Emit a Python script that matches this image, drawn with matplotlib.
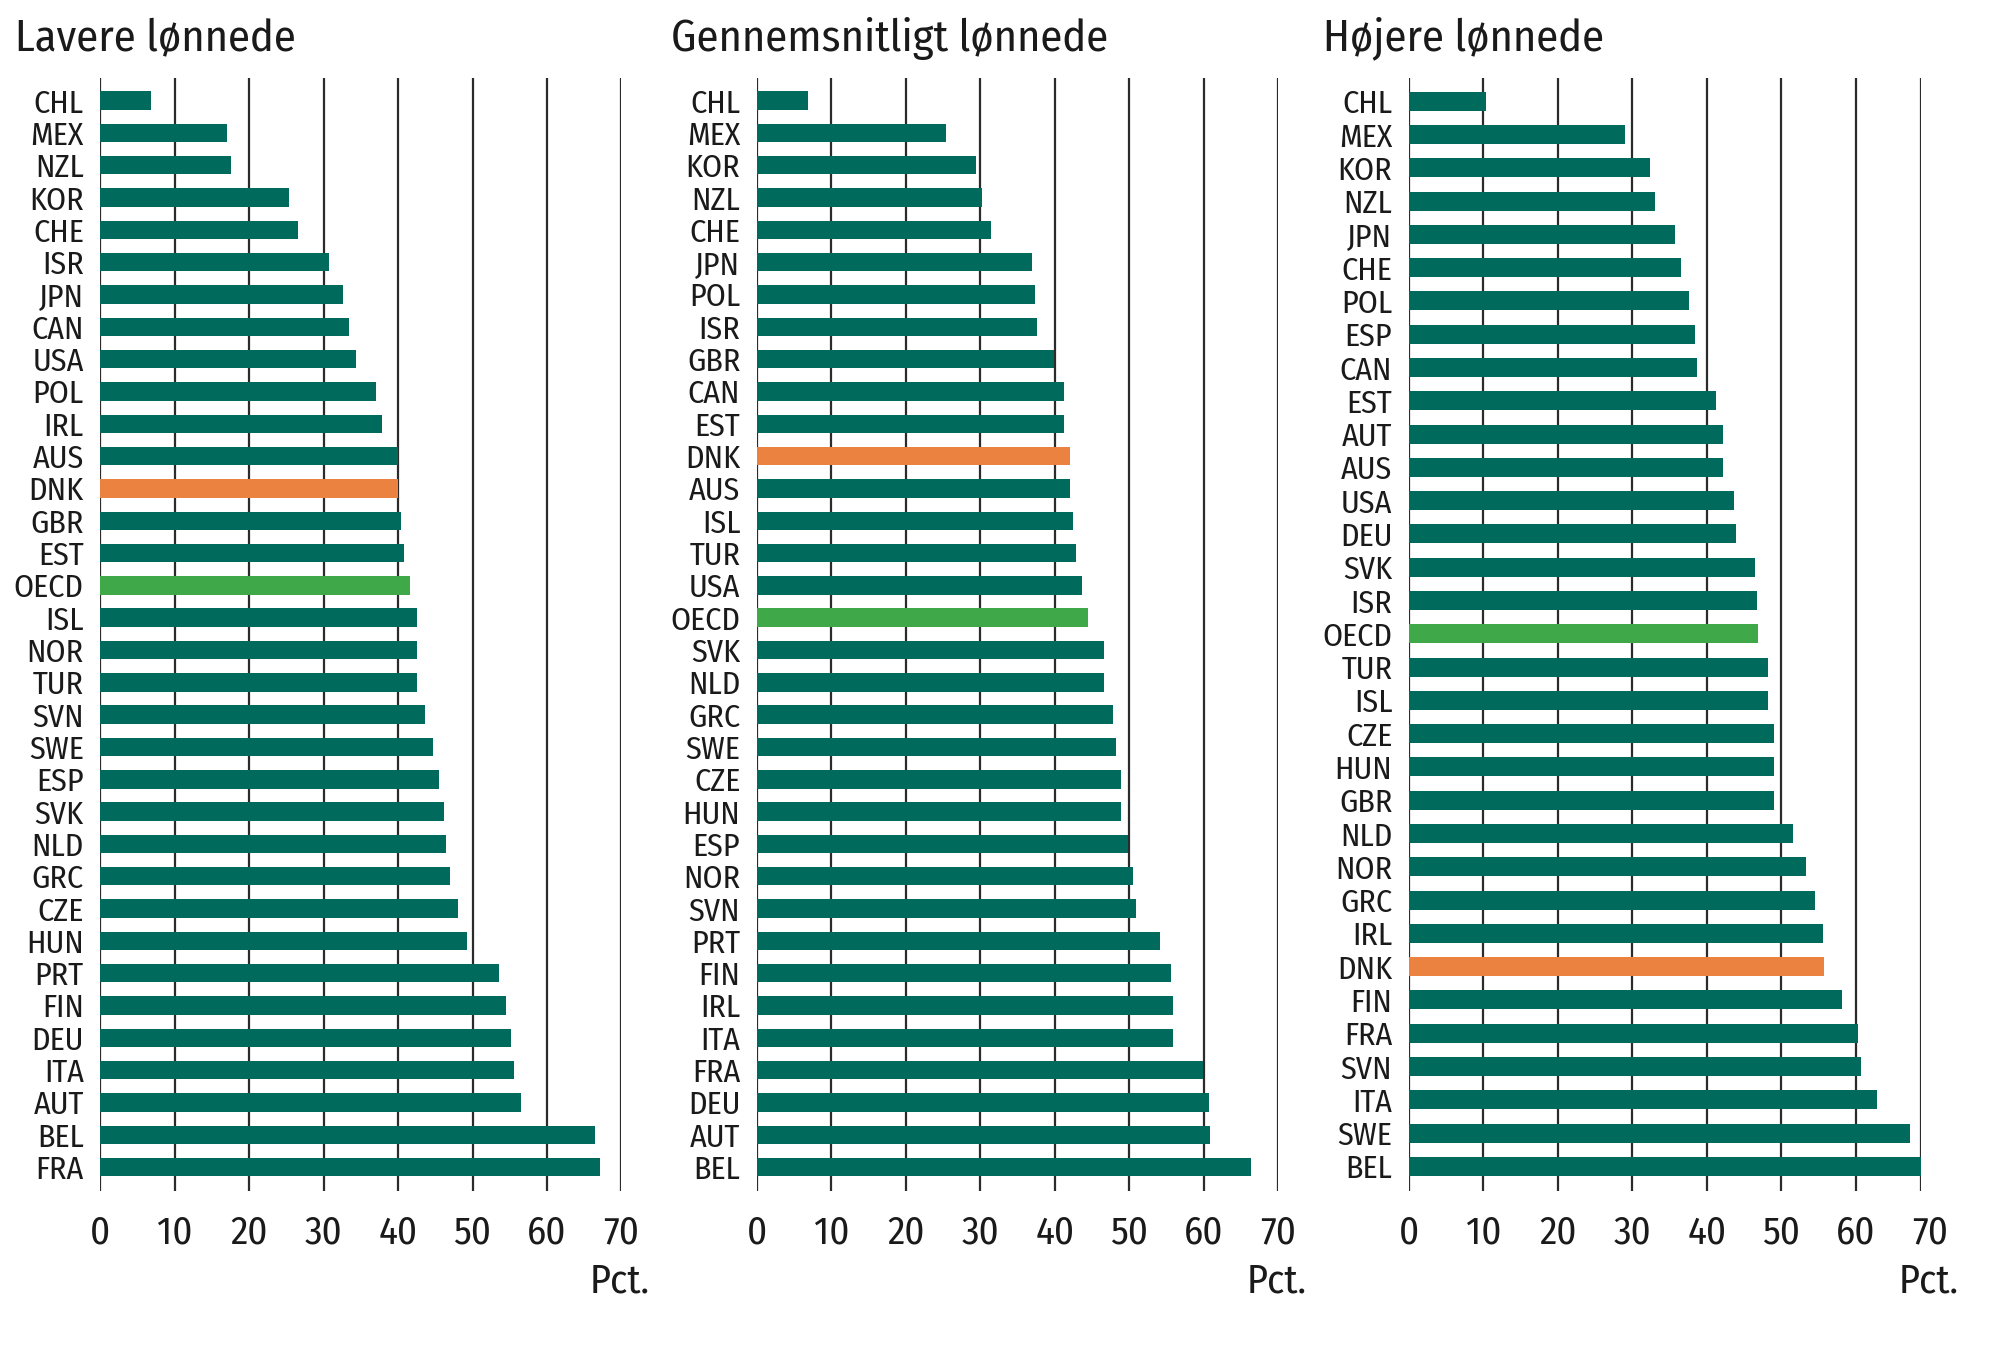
import matplotlib
matplotlib.use("Agg")
import matplotlib.pyplot as plt
from matplotlib import font_manager

# ---------------- data ----------------
low_countries = ["CHL", "MEX", "NZL", "KOR", "CHE", "ISR", "JPN", "CAN", "USA", "POL",
                 "IRL", "AUS", "DNK", "GBR", "EST", "OECD", "ISL", "NOR", "TUR", "SVN",
                 "SWE", "ESP", "SVK", "NLD", "GRC", "CZE", "HUN", "PRT", "FIN", "DEU",
                 "ITA", "AUT", "BEL", "FRA"]
low_values = [6.8, 17.0, 17.6, 25.3, 26.6, 30.7, 32.6, 33.4, 34.4, 37.0,
              37.9, 40.0, 40.0, 40.4, 40.8, 41.6, 42.5, 42.5, 42.5, 43.6,
              44.7, 45.5, 46.1, 46.5, 47.0, 48.1, 49.2, 53.6, 54.5, 55.2,
              55.6, 56.5, 66.4, 67.1]

avg_countries = ["CHL", "MEX", "KOR", "NZL", "CHE", "JPN", "POL", "ISR", "GBR", "CAN",
                 "EST", "DNK", "AUS", "ISL", "TUR", "USA", "OECD", "SVK", "NLD", "GRC",
                 "SWE", "CZE", "HUN", "ESP", "NOR", "SVN", "PRT", "FIN", "IRL", "ITA",
                 "FRA", "DEU", "AUT", "BEL"]
avg_values = [6.8, 25.4, 29.4, 30.2, 31.4, 37.0, 37.4, 37.6, 39.9, 41.2,
              41.3, 42.0, 42.0, 42.5, 42.9, 43.7, 44.5, 46.6, 46.6, 47.8,
              48.2, 48.9, 48.9, 49.9, 50.5, 50.9, 54.1, 55.6, 55.9, 55.9,
              59.9, 60.7, 60.8, 66.4]

high_countries = ["CHL", "MEX", "KOR", "NZL", "JPN", "CHE", "POL", "ESP", "CAN", "EST",
                  "AUT", "AUS", "USA", "DEU", "SVK", "ISR", "OECD", "TUR", "ISL", "CZE",
                  "HUN", "GBR", "NLD", "NOR", "GRC", "IRL", "DNK", "FIN", "FRA", "SVN",
                  "ITA", "SWE", "BEL"]
high_values = [10.3, 29.0, 32.4, 33.1, 35.8, 36.5, 37.6, 38.4, 38.7, 41.3,
               42.2, 42.2, 43.6, 44.0, 46.5, 46.7, 46.9, 48.2, 48.2, 49.0,
               49.0, 49.0, 51.6, 53.4, 54.6, 55.6, 55.8, 58.2, 60.3, 60.7,
               62.9, 67.3, 68.8]

titles = ["Lavere lønnede", "Gennemsnitligt lønnede", "Højere lønnede"]
x_ticks = [0, 10, 20, 30, 40, 50, 60, 70]
unit_label = "Pct."

# ---------------- fonts ----------------
available = {f.name for f in font_manager.fontManager.ttflist}
def pick(prefs):
    for p in prefs:
        if p in available:
            return [p, "DejaVu Sans"]
    return ["DejaVu Sans"]

COND = pick(["Fira Sans Condensed", "PT Sans Narrow", "Roboto Condensed",
             "Open Sans Condensed", "Liberation Sans Narrow", "Archivo Narrow"])

# ---------------- style ----------------
TEAL = "#006b5c"
ORANGE = "#ec8240"
GREEN = "#3fa849"
GRID = "#2b2b2b"
TXT = "#1a1a1a"

def color_for(c):
    if c == "DNK":
        return ORANGE
    if c == "OECD":
        return GREEN
    return TEAL

fig = plt.figure(figsize=(20, 13.49), dpi=100)
fig.patch.set_facecolor("white")

panels = [
    (low_countries, low_values, titles[0], 0.0502, 0.2605),
    (avg_countries, avg_values, titles[1], 0.3785, 0.2605),
    (high_countries, high_values, titles[2], 0.7045, 0.2605),
]
title_x = [0.0075, 0.3355, 0.6615]

bottom, height = 0.1171, 0.8251

for i, (countries, values, title, left, width) in enumerate(panels):
    n = len(countries)
    if i == 2:
        xmax = max(values)
        width = width * xmax / 70.0
    else:
        xmax = 70.0
    ax = fig.add_axes([left, bottom, width, height])
    ypos = list(range(n))
    ax.barh(ypos, values, height=0.57, color=[color_for(c) for c in countries],
            edgecolor="none", zorder=3)
    ax.set_ylim(n - 1 + 0.74, -0.70)
    ax.set_xlim(0, xmax)
    shown = [t for t in x_ticks if t <= xmax]
    line_x = [t for t in x_ticks if t < xmax] + [xmax]
    ax.set_xticks(shown)
    ax.set_xticklabels([str(t) for t in shown])
    for xv in line_x:
        ax.axvline(xv, color=GRID, lw=1.6, zorder=1)
    if i == 2:
        ax.annotate("70", xy=(70, 0), xycoords=ax.get_xaxis_transform(),
                    xytext=(0, -17), textcoords="offset points",
                    ha="center", va="top", fontsize=28, family=COND,
                    color=TXT, annotation_clip=False)
    for s in ax.spines.values():
        s.set_visible(False)
    ax.set_yticks(ypos)
    ax.set_yticklabels(countries, fontsize=23, family=COND, color=TXT)
    ax.tick_params(axis="y", length=0, pad=12)
    ax.tick_params(axis="x", length=0, pad=17, labelsize=28, colors=TXT)
    for lab in ax.get_xticklabels():
        lab.set_family(COND)
    ax.text(1.055 * 70.0 / xmax, -0.081, unit_label, transform=ax.transAxes,
            ha="right", va="center", fontsize=29, family=COND, color=TXT)
    fig.text(title_x[i], 0.9715, title, ha="left", va="center", fontsize=32,
             family=COND, color=TXT)

fig.savefig("out.png", dpi=100, facecolor="white")
